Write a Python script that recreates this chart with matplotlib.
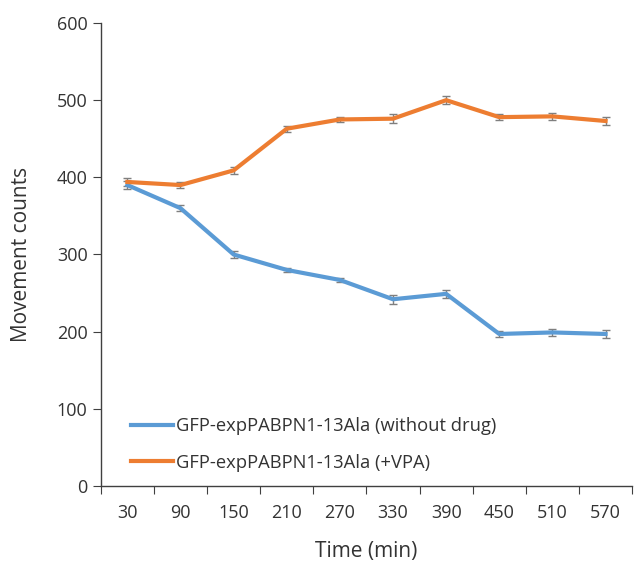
import matplotlib
matplotlib.use("Agg")
import matplotlib.pyplot as plt
import numpy as np

plt.rcParams['font.family'] = ['Open Sans', 'DejaVu Sans']

times = ["30", "90", "150", "210", "270", "330", "390", "450", "510", "570"]
no_drug = [390, 360, 300, 280, 267, 242, 249, 197, 199, 197]
no_drug_err = [5, 4, 4, 3, 3, 6, 5, 4, 5, 5]
vpa = [394, 390, 409, 463, 475, 476, 500, 478, 479, 473]
vpa_err = [5, 4, 5, 4, 3, 6, 5, 4, 5, 5]
labels = ["GFP-expPABPN1-13Ala (without drug)", "GFP-expPABPN1-13Ala (+VPA)"]
colors = ["#5B9BD5", "#ED7D31"]

fig = plt.figure(figsize=(6.34, 5.61), dpi=100)
ax = fig.add_axes([0.159, 0.1337, 0.838, 0.8253])
x = np.arange(len(times))

for ys, es, lab, c in [(no_drug, no_drug_err, labels[0], colors[0]), (vpa, vpa_err, labels[1], colors[1])]:
    ax.errorbar(x, ys, yerr=es, color=c, lw=3, ecolor="#7f7f7f", elinewidth=1, capsize=3, capthick=1, label=lab, zorder=3)

ax.set_xlim(-0.5, len(times) - 0.5)
ax.set_ylim(0, 600)
ax.set_yticks(np.arange(0, 601, 100))
ax.set_xticks(np.arange(-0.5, len(times), 1.0))
ax.set_xticklabels([])
ax.set_xticks(x, minor=True)
ax.set_xticklabels(times, minor=True)
ax.tick_params(axis='x', which='major', length=6, direction='out', color='#404040')
ax.tick_params(axis='x', which='minor', length=0, pad=13, labelsize=13, labelcolor='#333333')
ax.tick_params(axis='y', length=6, direction='out', labelsize=13, labelcolor='#333333', color='#404040')
for s in ['top', 'right']:
    ax.spines[s].set_visible(False)
for s in ['left', 'bottom']:
    ax.spines[s].set_color('#404040')
    ax.spines[s].set_linewidth(1)

ax.set_xlabel("Time (min)", fontsize=15, color='#333333', labelpad=14)
ax.set_ylabel("Movement counts", fontsize=15, color='#333333', labelpad=18)

handles = [plt.Line2D([], [], color=c, lw=3) for c in colors]
ax.legend(handles, labels, loc='lower left', bbox_to_anchor=(0.025, -0.005), frameon=False,
          fontsize=13.2, handlelength=2.3, handletextpad=0.2, labelspacing=1.0, labelcolor='#333333')

fig.savefig("out.png", dpi=100)
